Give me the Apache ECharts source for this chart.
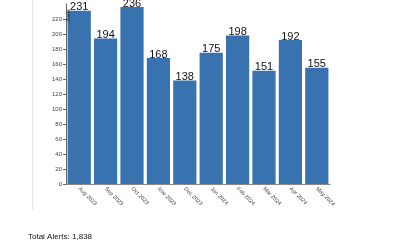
<!DOCTYPE html>
<html><head><meta charset="utf-8">
<script src="https://cdn.jsdelivr.net/npm/echarts@6/dist/echarts.min.js"></script>
<style>html,body{margin:0;padding:0;background:#fff}#c{width:400px;height:250px}</style>
</head><body><div id="c"></div>
<script>
const categories = ["Aug 2023","Sep 2023","Oct 2023","Nov 2023","Dec 2023","Jan 2024","Feb 2024","Mar 2024","Apr 2024","May 2024"];
const alerts = [231,194,236,168,138,175,198,151,192,155];
const totalText = "Total Alerts: 1,838";

const chart = echarts.init(document.getElementById('c'), null, {renderer:'canvas'});
chart.setOption({
  animation:false,
  grid:{left:66,right:70,top:4,bottom:66},
  xAxis:{type:'category',data:categories,
    axisLine:{lineStyle:{color:'#888',width:1}},
    axisTick:{show:false},
    axisLabel:{rotate:-45,fontSize:5.5,color:'#444',margin:4,fontFamily:'Liberation Sans'}},
  yAxis:{type:'value',min:0,max:240,interval:20,
    splitLine:{show:false},
    axisLine:{show:true,lineStyle:{color:'#666',width:1}},
    axisTick:{show:true,length:3,lineStyle:{color:'#666'}},
    axisLabel:{fontSize:6,color:'#444',margin:4,showMaxLabel:false,fontFamily:'Liberation Sans'}},
  series:[{type:'bar',data:alerts,barCategoryGap:'12%',
    itemStyle:{color:'#3873b0'},
    label:{show:true,position:'top',distance:-2,fontSize:11,color:'#111',fontFamily:'Liberation Sans'}}],
  graphic:[
    {type:'line',shape:{x1:32.5,y1:0,x2:32.5,y2:210},style:{stroke:'#e4e4e4',lineWidth:1}},
    {type:'text',left:28,top:233,style:{text:totalText,fontSize:8,fill:'#111',fontFamily:'Liberation Sans'}},
    {type:'text',x:66,y:22,z:100,rotation:Math.PI/2,style:{text:'Alerts',fontSize:5,fill:'#333',fontFamily:'Liberation Sans'}}
  ]
});
</script></body></html>
